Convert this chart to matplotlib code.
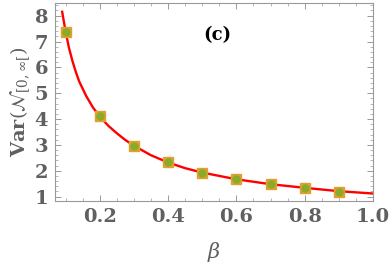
import matplotlib.pyplot as plt
from matplotlib.ticker import MultipleLocator

# curve
beta_curve = [0.09, 0.10, 0.11, 0.12, 0.13, 0.14, 0.16, 0.18, 0.20, 0.225,
              0.25, 0.275, 0.30, 0.35, 0.40, 0.45, 0.50, 0.60, 0.70, 0.80,
              0.90, 1.00]
var_curve = [8.15, 7.38, 6.75, 6.25, 5.82, 5.45, 4.90, 4.45, 4.10, 3.74,
             3.45, 3.19, 2.97, 2.60, 2.32, 2.10, 1.93, 1.67, 1.48, 1.34,
             1.21, 1.12]

# simulated points
beta_pts = [0.1, 0.2, 0.3, 0.4, 0.5, 0.6, 0.7, 0.8, 0.9]
var_pts = [7.38, 4.12, 2.97, 2.32, 1.93, 1.67, 1.48, 1.34, 1.19]

gray = '#606060'
plt.rcParams['font.family'] = ['DejaVu Serif']
plt.rcParams['mathtext.fontset'] = 'dejavuserif'

fig = plt.figure(figsize=(3.9, 2.71), dpi=100)
ax = fig.add_axes([55/390, 1 - 201/271, 318/390, 198/271])

ax.plot(beta_curve, var_curve, color='red', lw=1.7, zorder=2)
ax.plot(beta_pts, var_pts, 's', color='#e0a030', ms=6.5, zorder=3)
ax.plot(beta_pts, var_pts, 'o', color='#8aab2a', ms=5, zorder=4)

ax.set_xlim(0.069, 1.0)
ax.set_ylim(0.83, 8.49)
ax.xaxis.set_minor_locator(MultipleLocator(0.05))
ax.yaxis.set_major_locator(MultipleLocator(1))
ax.yaxis.set_minor_locator(MultipleLocator(0.2))
ax.set_xticks([0.2, 0.4, 0.6, 0.8, 1.0])
ax.set_xticklabels(['0.2', '0.4', '0.6', '0.8', '1.0'])

for s in ax.spines.values():
    s.set_color('#999999')
    s.set_linewidth(0.8)
ax.tick_params(which='both', direction='in', top=True, right=True,
               color='#999999', labelcolor=gray)
ax.tick_params(which='major', length=4, width=0.7, labelsize=14, pad=5)
ax.tick_params(which='minor', length=2, width=0.5)
for lab in ax.get_xticklabels() + ax.get_yticklabels():
    lab.set_fontweight('bold')

ax.set_xlabel(r'$\beta$', color=gray, fontsize=15, labelpad=10)
ax.set_ylabel(r'$\mathbf{Var}(\mathcal{N}_{[0,\infty[})$', color=gray,
              fontsize=14, labelpad=2)
ax.text(0.51, 0.84, '(c)', transform=ax.transAxes, ha='center', va='center',
        fontsize=13, fontweight='bold', color='black')

fig.savefig('out.png', dpi=100)
